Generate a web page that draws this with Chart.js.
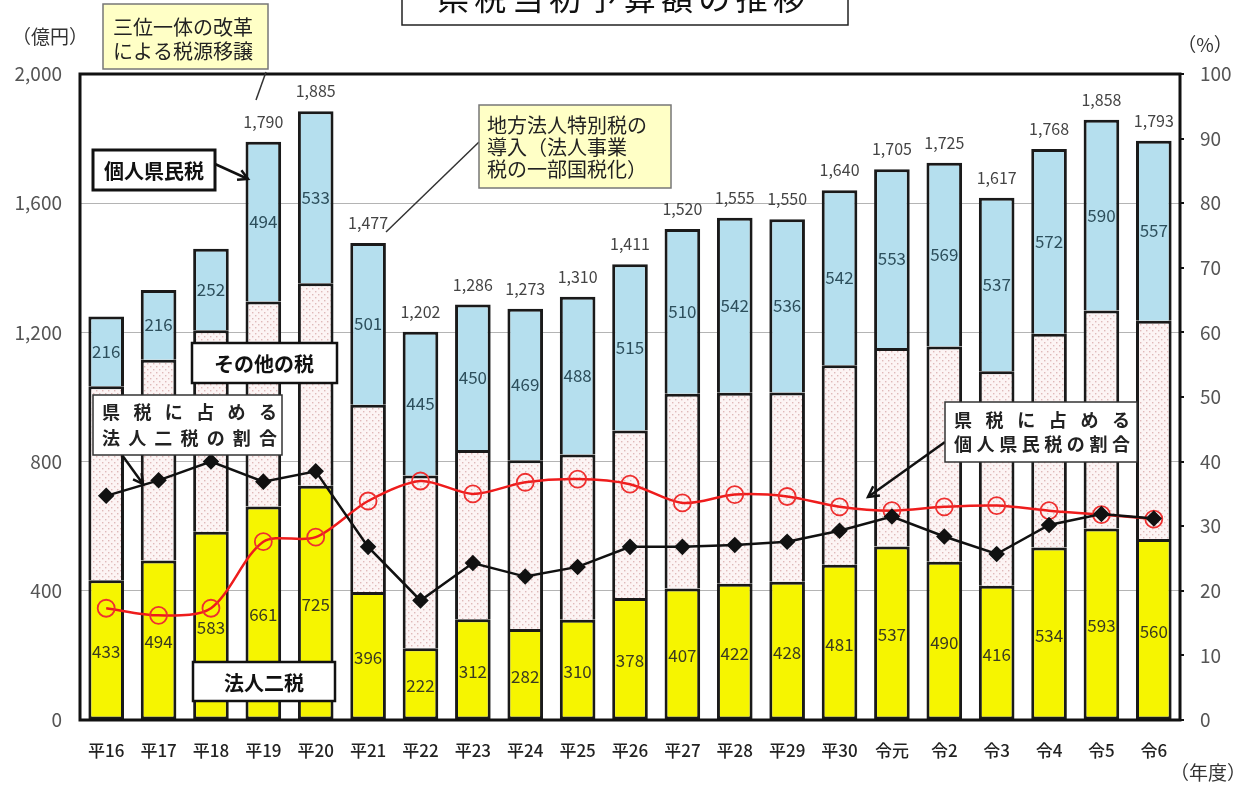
<!DOCTYPE html>
<html><head><meta charset="utf-8">
<script src="https://cdn.jsdelivr.net/npm/chart.js@4.4.1/dist/chart.umd.min.js"></script>
<style>html,body{margin:0;padding:0;background:#fff;}canvas{display:block;}</style>
</head><body>
<canvas id="c" width="1252" height="785"></canvas>
<script>
const categories = ['平16','平17','平18','平19','平20','平21','平22','平23','平24','平25','平26','平27','平28','平29','平30','令元','令2','令3','令4','令5','令6'];
const corporateTax = [433,494,583,661,725,396,222,312,282,310,378,407,422,428,481,537,490,416,534,593,560];
const otherTax     = [600,621,624,635,627,580,535,524,522,512,518,603,591,586,617,615,666,664,662,675,676];
const residentTax  = [216,216,252,494,533,501,445,450,469,488,515,510,542,536,542,553,569,537,572,590,557];
const totalLabels  = [null,null,null,1790,1885,1477,1202,1286,1273,1310,1411,1520,1555,1550,1640,1705,1725,1617,1768,1858,1793];
const corporateShare = [34.7,37.1,40.0,36.9,38.5,26.8,18.5,24.3,22.2,23.7,26.8,26.8,27.1,27.6,29.3,31.5,28.4,25.7,30.2,31.9,31.2];
const residentShare  = [17.3,16.2,17.3,27.6,28.3,33.9,37.0,35.0,36.8,37.3,36.5,33.6,34.9,34.6,33.0,32.4,33.0,33.2,32.4,31.8,31.1];
const leftTickStep = 400, leftMax = 2000, rightTickStep = 10, rightMax = 100;

const FONT = '"Noto Sans CJK JP","Noto Sans",sans-serif';
const canvas = document.getElementById('c');
const ctx0 = canvas.getContext('2d');

function dotPattern(){
  const c = document.createElement('canvas'); c.width = 6; c.height = 6;
  const x = c.getContext('2d');
  x.fillStyle = '#fcf4f4'; x.fillRect(0,0,6,6);
  x.fillStyle = '#dfb9b9'; x.fillRect(0,0,1.4,1.4); x.fillRect(3,3,1.4,1.4);
  return ctx0.createPattern(c,'repeat');
}

function spreadText(ctx, text, x1, x2, y){
  const chars = [...text];
  const n = chars.length;
  for(let i=0;i<n;i++){
    const cx = x1 + i*(x2-x1)/(n-1);
    ctx.fillText(chars[i], cx, y);
  }
}
function arrow(ctx,x1,y1,x2,y2,head){
  ctx.beginPath(); ctx.moveTo(x1,y1); ctx.lineTo(x2,y2); ctx.stroke();
  const a = Math.atan2(y2-y1,x2-x1);
  ctx.beginPath();
  ctx.moveTo(x2-head*Math.cos(a-0.5), y2-head*Math.sin(a-0.5));
  ctx.lineTo(x2,y2);
  ctx.lineTo(x2-head*Math.cos(a+0.5), y2-head*Math.sin(a+0.5));
  ctx.stroke();
}
function box(ctx,x1,y1,x2,y2,fill,stroke,lw){
  ctx.fillStyle = fill; ctx.fillRect(x1,y1,x2-x1,y2-y1);
  ctx.strokeStyle = stroke; ctx.lineWidth = lw; ctx.strokeRect(x1,y1,x2-x1,y2-y1);
}

const labelPlugin = {
  id:'valueLabels',
  afterDatasetsDraw(chart){
    const ctx = chart.ctx;
    ctx.save();
    ctx.textAlign = 'center'; ctx.textBaseline = 'middle';
    const m0 = chart.getDatasetMeta(0), m2 = chart.getDatasetMeta(2);
    ctx.font = '17px ' + FONT;
    m0.data.forEach((bar,i)=>{
      ctx.fillStyle = '#3a3a20';
      ctx.fillText(String(corporateTax[i]), bar.x, (bar.y+bar.base)/2 + 2);
    });
    m2.data.forEach((bar,i)=>{
      ctx.font = '17px ' + FONT;
      ctx.fillStyle = '#2d4f5c';
      ctx.fillText(String(residentTax[i]), bar.x, (bar.y+bar.base)/2);
      if(totalLabels[i] !== null){
        ctx.fillStyle = '#444';
        ctx.font = '16px ' + FONT;
        ctx.fillText(totalLabels[i].toLocaleString('en-US'), bar.x, bar.y - 20);
      }
    });
    ctx.restore();
  },
  afterDraw(chart){
    const ctx = chart.ctx, a = chart.chartArea;
    ctx.save();
    // frame
    ctx.strokeStyle = '#111'; ctx.lineWidth = 3;
    ctx.strokeRect(a.left, a.top, a.right-a.left, a.bottom-a.top);

    // title (cut off at top)
    box(ctx,402,-40,848,25,'#fff','#222',1.5);
    ctx.fillStyle = '#111'; ctx.textAlign='center'; ctx.textBaseline='middle';
    ctx.font = '32px ' + FONT;
    spreadText(ctx,'県税当初予算額の推移',453,789,-2);

    // unit labels
    ctx.font = '19px ' + FONT; ctx.fillStyle = '#333';
    ctx.fillText('（億円）',50,37);
    ctx.fillText('（%）',1205,45);
    ctx.fillText('（年度）',1208,773);

    // 三位一体 box
    ctx.strokeStyle = '#333'; ctx.lineWidth = 1.5;
    ctx.beginPath(); ctx.moveTo(266,72); ctx.lineTo(256,100); ctx.stroke();
    box(ctx,103,4,268,69,'#ffffc6','#777',1.5);
    ctx.fillStyle = '#222'; ctx.font = '20px ' + FONT; ctx.textAlign='left';
    ctx.fillText('三位一体の改革',113,27);
    ctx.fillText('による税源移譲',113,51);

    // 地方法人特別税 box
    ctx.strokeStyle = '#333'; ctx.lineWidth = 1.5;
    ctx.beginPath(); ctx.moveTo(479,142); ctx.lineTo(386,232); ctx.stroke();
    box(ctx,479,105,671,188,'#ffffc6','#777',1.5);
    ctx.fillStyle = '#222'; ctx.font = '20px ' + FONT; ctx.textAlign='left';
    ctx.fillText('地方法人特別税の',487,125);
    ctx.fillText('導入（法人事業',487,147);
    ctx.fillText('税の一部国税化）',487,169);

    // 個人県民税
    ctx.strokeStyle = '#111'; ctx.lineWidth = 2.5;
    arrow(ctx,215,164,248,179,11);
    box(ctx,93,150,215,190,'#fff','#111',3);
    ctx.fillStyle = '#111'; ctx.font = 'bold 20px ' + FONT; ctx.textAlign='center';
    ctx.fillText('個人県民税',154,171);

    // その他の税
    box(ctx,192,343,337,383,'#fff','#111',2.5);
    ctx.fillStyle = '#111'; ctx.font = 'bold 20px ' + FONT;
    ctx.fillText('その他の税',264,364);

    // 法人二税
    box(ctx,193,662,335,701,'#fff','#111',2.5);
    ctx.fillStyle = '#111'; ctx.font = 'bold 20px ' + FONT;
    ctx.fillText('法人二税',264,683);

    // 県税に占める法人二税の割合
    ctx.strokeStyle = '#111'; ctx.lineWidth = 2.5;
    arrow(ctx,122,455,143,484,11);
    box(ctx,93,395,282,455,'#fff','#333',1.5);
    ctx.fillStyle = '#222'; ctx.font = 'bold 18px ' + FONT;
    spreadText(ctx,'県税に占める',111,268,412);
    spreadText(ctx,'法人二税の割合',111,268,438);

    // 県税に占める個人県民税の割合
    ctx.strokeStyle = '#111'; ctx.lineWidth = 2.5;
    arrow(ctx,945,442,868,497,12);
    box(ctx,945,402,1137,462,'#fff','#333',1.5);
    ctx.fillStyle = '#222'; ctx.font = 'bold 18px ' + FONT;
    spreadText(ctx,'県税に占める',963,1121,420);
    spreadText(ctx,'個人県民税の割合',963,1121,444);

    ctx.restore();
  }
};

const pat = dotPattern();
new Chart(canvas, {
  type:'bar',
  data:{
    labels: categories,
    datasets:[
      {label:'法人二税', data:corporateTax, backgroundColor:'#f6f500', borderColor:'#1a1a1a', borderWidth:3, borderSkipped:false, stack:'s', order:2, yAxisID:'y'},
      {label:'その他の税', data:otherTax, backgroundColor:pat, borderColor:'#1a1a1a', borderWidth:3, borderSkipped:'bottom', stack:'s', order:2, yAxisID:'y'},
      {label:'個人県民税', data:residentTax, backgroundColor:'#b5dfee', borderColor:'#1a1a1a', borderWidth:3, borderSkipped:'bottom', stack:'s', order:2, yAxisID:'y'},
      {type:'line', label:'個人県民税の割合', data:residentShare, yAxisID:'y2', borderColor:'#ee1c1c', borderWidth:2.5, tension:0.3,
        pointStyle:'circle', pointRadius:8.5, pointBackgroundColor:'rgba(255,255,255,0)', pointBorderColor:'#ee3030', pointBorderWidth:1.8, order:1},
      {type:'line', label:'法人二税の割合', data:corporateShare, yAxisID:'y2', borderColor:'#111', borderWidth:2.5, tension:0,
        pointStyle:'rectRot', pointRadius:6.5, pointBackgroundColor:'#111', pointBorderColor:'#111', order:0}
    ]
  },
  options:{
    responsive:false, animation:false,
    layout:{padding:{top:74,left:0,right:0,bottom:0}},
    plugins:{legend:{display:false}, tooltip:{enabled:false}},
    datasets:{bar:{barPercentage:0.68, categoryPercentage:1}},
    scales:{
      x:{stacked:true, grid:{display:false}, border:{display:false},
         ticks:{color:'#222', font:{family:FONT, size:17, weight:'500'}, padding:12, maxRotation:0, autoSkip:false},
         afterFit(s){ s.height = 65; }},
      y:{stacked:true, position:'left', min:0, max:leftMax,
         ticks:{stepSize:leftTickStep, color:'#555', font:{family:FONT, size:19}, padding:18,
                callback:v=>Number(v).toLocaleString('en-US')},
         grid:{color:'#b4b4b4', lineWidth:1, drawTicks:false}, border:{display:false},
         afterFit(s){ s.width = 80; }},
      y2:{position:'right', min:0, max:rightMax,
         ticks:{stepSize:rightTickStep, color:'#555', font:{family:FONT, size:19}, padding:16},
         grid:{drawOnChartArea:false, tickLength:4, color:'#111', lineWidth:2}, border:{display:false},
         afterFit(s){ s.width = 72; }}
    }
  },
  plugins:[labelPlugin]
});
</script>
</body></html>
